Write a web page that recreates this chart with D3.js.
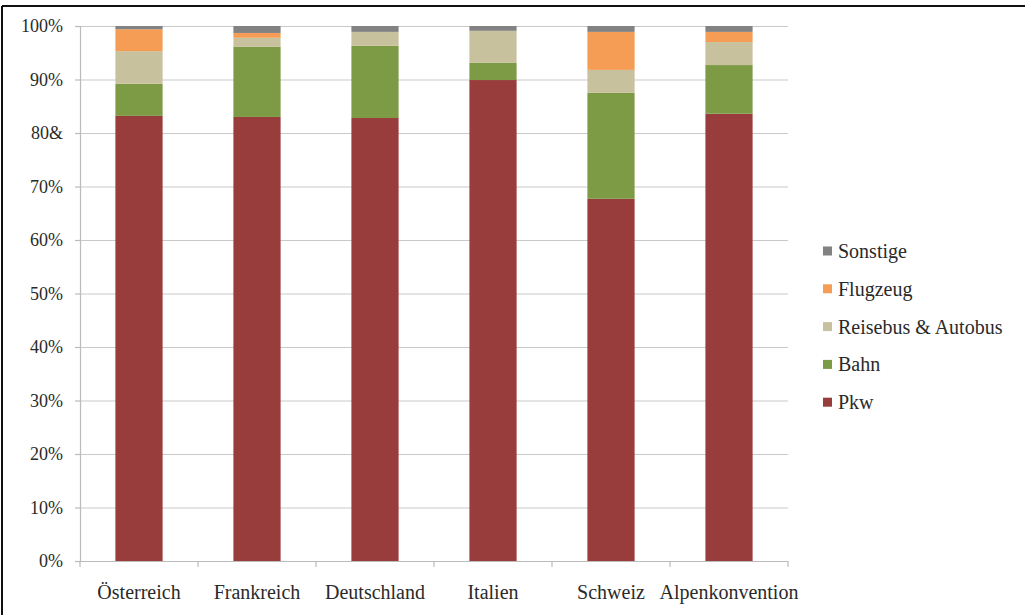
<!DOCTYPE html>
<html>
<head>
<meta charset="utf-8">
<script src="https://cdn.jsdelivr.net/npm/d3@7"></script>
<style>
  body { margin: 0; background: #fff; }
  svg { display: block; font-family: "Liberation Serif", "DejaVu Serif", serif; }
</style>
</head>
<body>
<div id="chart"></div>
<script>
// categories and series (share in %)
const laender = ["Österreich", "Frankreich", "Deutschland", "Italien", "Schweiz", "Alpenkonvention"]
const pkw      = [83.2, 83.0, 82.8, 89.9, 67.7, 83.6]
const bahn     = [6.0, 13.1, 13.5, 3.2, 19.8, 9.1]
const reisebus = [6.1, 1.7, 2.6, 6.0, 4.3, 4.3]
const flugzeug = [4.1, 0.9, 0.0, 0.0, 7.1, 1.9]
const sonstige = [0.6, 1.3, 1.1, 0.9, 1.1, 1.1]
const yTicks = [0, 10, 20, 30, 40, 50, 60, 70, 80, 90, 100]
const yTickLabels = ["0%", "10%", "20%", "30%", "40%", "50%", "60%", "70%", "80&", "90%", "100%"]

const serien = [
  {key: "Pkw", values: pkw, color: "#983d3b"},
  {key: "Bahn", values: bahn, color: "#7d9a44"},
  {key: "Reisebus & Autobus", values: reisebus, color: "#c8c19d"},
  {key: "Flugzeug", values: flugzeug, color: "#f59c55"},
  {key: "Sonstige", values: sonstige, color: "#828282"}
]

const width = 1025, height = 615
const margin = {top: 26, right: 237, bottom: 54, left: 80}

const svg = d3.select("#chart").append("svg")
  .attr("width", width)
  .attr("height", height)

// frame (top and left edge visible)
svg.append("line").attr("x1", 2).attr("x2", width).attr("y1", 6).attr("y2", 6)
  .attr("stroke", "#111").attr("stroke-width", 2)
svg.append("line").attr("x1", 2).attr("x2", 2).attr("y1", 6).attr("y2", height)
  .attr("stroke", "#111").attr("stroke-width", 2)

const rows = laender.map((land, i) => {
  const r = {land}
  serien.forEach(s => r[s.key] = s.values[i])
  return r
})
const stacked = d3.stack().keys(serien.map(s => s.key))(rows)

const x = d3.scaleBand()
  .domain(laender)
  .range([margin.left, width - margin.right])
  .paddingInner(0.6)
  .paddingOuter(0.3)

const y = d3.scaleLinear()
  .domain([0, 100])
  .range([height - margin.bottom, margin.top])

// gridlines
svg.append("g")
  .selectAll("line")
  .data(yTicks.slice(1))
  .join("line")
    .attr("x1", margin.left)
    .attr("x2", width - margin.right)
    .attr("y1", d => y(d) + 0.5)
    .attr("y2", d => y(d) + 0.5)
    .attr("stroke", "#c9c9c9")
    .attr("stroke-width", 1.2)

// y axis
const yAxis = svg.append("g")
  .attr("transform", `translate(${margin.left},0)`)
  .call(d3.axisLeft(y).tickValues(yTicks).tickSize(5).tickPadding(12)
    .tickFormat((d, i) => yTickLabels[i]))
yAxis.select(".domain").attr("stroke", "#bbb").attr("stroke-width", 1.2)
yAxis.selectAll(".tick line").attr("stroke", "#bbb").attr("stroke-width", 1.2)
yAxis.selectAll("text")
  .style("font-family", "Liberation Serif, serif")
  .style("font-size", "18px")
  .attr("fill", "#2a2a2a")

// bars
svg.append("g")
  .selectAll("g")
  .data(stacked)
  .join("g")
    .attr("fill", (d, i) => serien[i].color)
  .selectAll("rect")
  .data(d => d)
  .join("rect")
    .attr("x", d => x(d.data.land))
    .attr("width", x.bandwidth())
    .attr("y", d => y(d[1]))
    .attr("height", d => y(d[0]) - y(d[1]))

// x axis: ticks at category boundaries
const step = x.step()
const boundaries = d3.range(laender.length + 1).map(i => margin.left + i * step)
const xAxisG = svg.append("g")
xAxisG.append("line")
  .attr("x1", margin.left).attr("x2", width - margin.right)
  .attr("y1", y(0) + 0.5).attr("y2", y(0) + 0.5)
  .attr("stroke", "#bbb").attr("stroke-width", 1.2)
xAxisG.selectAll(".bt")
  .data(boundaries)
  .join("line")
    .attr("class", "bt")
    .attr("x1", d => d).attr("x2", d => d)
    .attr("y1", y(0)).attr("y2", y(0) + 6)
    .attr("stroke", "#bbb").attr("stroke-width", 1.2)
xAxisG.selectAll("text")
  .data(laender)
  .join("text")
    .attr("x", d => x(d) + x.bandwidth() / 2)
    .attr("y", y(0) + 38)
    .attr("text-anchor", "middle")
    .attr("fill", "#2a2a2a")
    .style("font-size", "20px")
    .text(d => d)

// legend
const legende = serien.slice().reverse()
const legend = svg.append("g")
  .attr("transform", "translate(823, 251)")
const items = legend.selectAll("g")
  .data(legende)
  .join("g")
    .attr("transform", (d, i) => `translate(0, ${i * 37.8})`)
items.append("rect")
  .attr("x", 0).attr("y", -4.5)
  .attr("width", 9).attr("height", 9)
  .attr("fill", d => d.color)
items.append("text")
  .attr("x", 15)
  .attr("y", 0)
  .attr("dy", "0.35em")
  .attr("fill", "#2a2a2a")
  .style("font-size", "20px")
  .text(d => d.key)
</script>
</body>
</html>
